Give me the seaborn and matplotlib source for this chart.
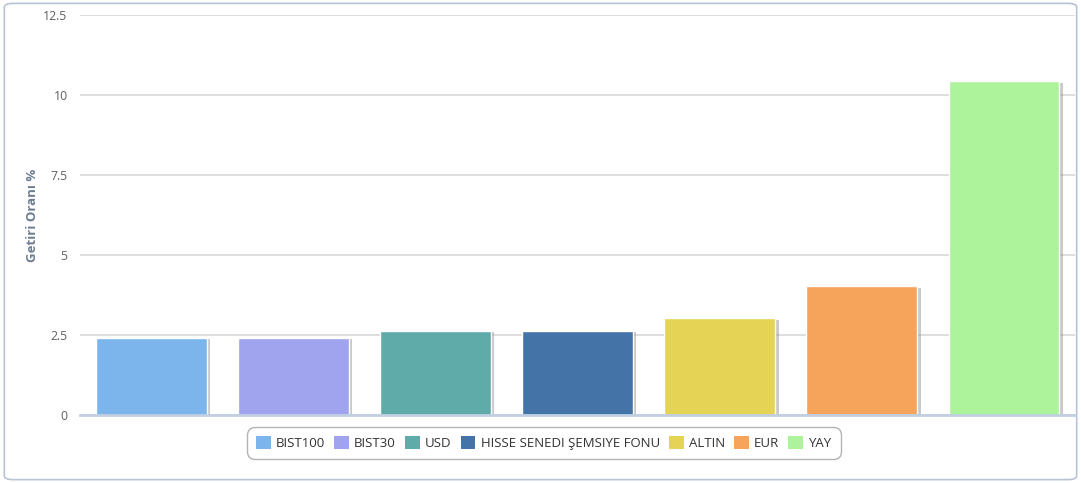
import matplotlib
matplotlib.use("Agg")
import matplotlib.pyplot as plt
import matplotlib.patheffects as pe
from matplotlib.patches import FancyBboxPatch, Patch
import seaborn as sns
import pandas as pd

categories = ["BIST100", "BIST30", "USD", "HISSE SENEDI ŞEMSIYE FONU", "ALTIN", "EUR", "YAY"]
values = [2.42, 2.42, 2.64, 2.64, 3.02, 4.02, 10.43]
colors = ["#7cb5ec", "#a0a3ee", "#5faba9", "#4473a8", "#e4d354", "#f6a45c", "#adf39c"]
yticks = [0, 2.5, 5, 7.5, 10, 12.5]
ytick_labels = ["0", "2.5", "5", "7.5", "10", "12.5"]

df = pd.DataFrame({"cat": categories, "val": values})

sns.set_theme(style="white")
plt.rcParams["font.family"] = ["Open Sans", "DejaVu Sans"]

fig = plt.figure(figsize=(10.81, 4.83), dpi=100)
ax = fig.add_axes([0.074, 0.1408, 0.9205, 0.8282])

sns.barplot(data=df, x="cat", y="val", hue="cat", palette=colors, dodge=False,
            width=0.78, legend=False, ax=ax, saturation=1, edgecolor="white", linewidth=1)

for p in ax.patches:
    p.set_path_effects([pe.SimplePatchShadow(offset=(2.5, -1), shadow_rgbFace="#888888", alpha=0.45),
                        pe.Normal()])
    p.set_zorder(3)

ax.set_ylim(0, 12.5)
ax.set_xlim(-0.5, len(categories) - 0.5)
ax.set_yticks(yticks)
ax.set_yticklabels(ytick_labels, fontsize=8.8, color="#606060")
ax.set_xticks([])
ax.set_xlabel("")
ax.set_ylabel("Getiri Oranı %", fontsize=9.5, color="#6f7d92", fontweight="bold")
ax.yaxis.set_label_coords(-0.041, 0.5)
ax.tick_params(axis="y", length=0, pad=9)
ax.yaxis.grid(True, color="#d8d8d8", linewidth=1.2, zorder=0)
ax.set_axisbelow(True)
for s in ["top", "right", "left"]:
    ax.spines[s].set_visible(False)
ax.spines["bottom"].set_color("#c0d0e0")
ax.spines["bottom"].set_linewidth(2)
ax.spines["bottom"].set_zorder(4)

handles = [Patch(facecolor=c, edgecolor="none") for c in colors]
leg = fig.legend(handles, categories, loc="center", bbox_to_anchor=(0.503, 0.083), ncol=7,
                 frameon=True, fancybox=True, fontsize=9.5, handlelength=1.1, handleheight=1.1,
                 handletextpad=0.4, columnspacing=0.7, borderpad=0.5, labelcolor="#333333")
leg.get_frame().set_edgecolor("#a0a0a0")
leg.get_frame().set_linewidth(1)
leg.get_frame().set_boxstyle("round,pad=0.2,rounding_size=0.6")

frame = FancyBboxPatch((0.004, 0.007), 0.992, 0.986, boxstyle="round,pad=0,rounding_size=0.008",
                       transform=fig.transFigure, facecolor="none", edgecolor="#b8c4d4",
                       linewidth=1.2, zorder=-1)
fig.patches.append(frame)

fig.savefig("out.png", dpi=100)
